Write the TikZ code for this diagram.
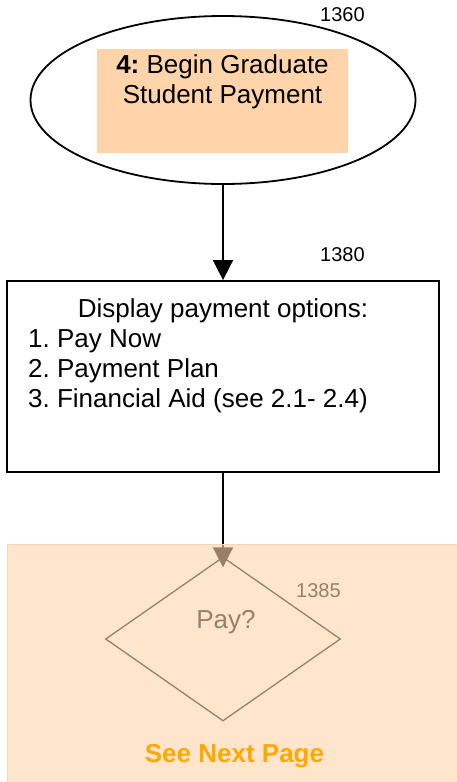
\documentclass[tikz,border=0pt]{standalone}
\usepackage{fontspec}
\setmainfont{Liberation Sans}
\usetikzlibrary{positioning, arrows.meta, shapes.geometric}
\definecolor{peach}{RGB}{255,212,170}
\definecolor{nextpage}{RGB}{255,168,0}
\frenchspacing

\begin{document}
\begin{tikzpicture}[
    x=1pt, y=-1pt,
    start/.style={ellipse, draw, line width=1.8pt, minimum width=385pt, minimum height=168pt, inner sep=0pt},
    highlight/.style={rectangle, fill=peach, minimum width=251pt, minimum height=104pt, inner sep=0pt},
    process/.style={rectangle, draw, line width=1.8pt, minimum width=432pt, minimum height=191pt, inner sep=0pt},
    decision/.style={diamond, draw, line width=1.3pt, minimum width=235pt, minimum height=164pt, inner sep=0pt},
    refnum/.style={anchor=base west, inner sep=0pt, font=\fontsize{20}{24}\selectfont},
    flow/.style={-{Triangle[width=20pt, length=20pt]}, line width=1.8pt},
    every node/.style={font=\fontsize{26}{30}\selectfont}
]
\useasboundingbox (0,0) rectangle (457,782);

% Nodes
\node[start] (begin) at (223,100) {};
\node[highlight] (beginfill) at (222.5,101) {};
\node[anchor=base, align=center, inner sep=0pt] (begintext) at (222.5,103) {\textbf{4:} Begin Graduate\\Student Payment};

\node[process] (options) at (223,376.5) {};
\node[anchor=base, inner sep=0pt] (optionstitle) at (223,317) {Display payment options:};
\node[anchor=base west, align=left, inner sep=0pt] (optionslist) at (28,407) {1. Pay Now\\2. Payment Plan\\3. Financial Aid (see 2.1- 2.4)};

\node[decision] (pay) at (223,639) {};
\node[anchor=base, inner sep=0pt] (paytext) at (226,628) {Pay?};

% Edges
\draw[flow] (begin.south) -- (options.north);
\draw[flow, shorten >=-11pt] (options.south) -- (pay.north);

% Annotations
\node[refnum] (n1360) at (320,21) {1360};
\node[refnum] (n1380) at (320,261) {1380};
\node[refnum] (n1385) at (296,597) {1385};

% Next page overlay
\fill[peach, opacity=0.6] (7,544) rectangle (462,790);
\draw[peach, line width=1pt] (7,790) -- (7,544) -- (462,544);
\node[anchor=base, inner sep=0pt, text=nextpage, font=\fontsize{26}{30}\selectfont\bfseries] (seenext) at (234.5,762) {See Next Page};

\end{tikzpicture}
\end{document}
